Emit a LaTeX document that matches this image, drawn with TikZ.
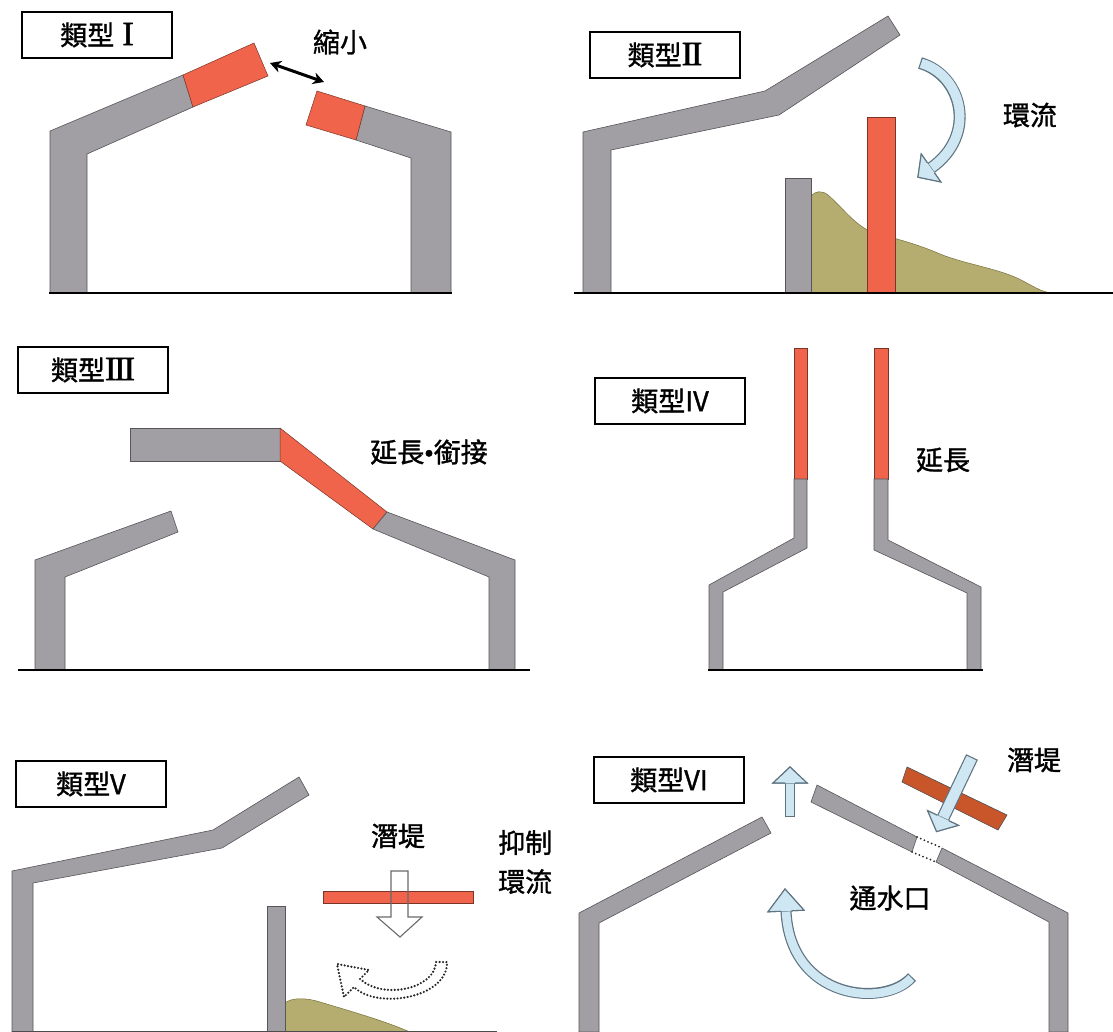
\documentclass[tikz,border=0pt]{standalone}
\usepackage{fontspec}
\setmainfont{Noto Sans CJK TC}[FakeBold=1.2]
\newfontfamily\romfont{Liberation Serif}[FakeBold=1.8]
\usetikzlibrary{calc,arrows.meta}

\definecolor{wallgray}{HTML}{A19FA4}
\definecolor{walledge}{HTML}{55555A}
\definecolor{extred}{HTML}{F0644B}
\definecolor{extedge}{HTML}{7A3428}
\definecolor{silt}{HTML}{B5AC70}
\definecolor{siltedge}{HTML}{77713F}
\definecolor{flowblue}{HTML}{CFE7F3}
\definecolor{flowedge}{HTML}{5F7480}
\definecolor{dikebrown}{HTML}{C9562A}
\definecolor{outlinegray}{HTML}{6A6A6A}

% arrow head for a block arrow: #1 style, #2 end point of the shaft,
% #3 point behind it (sets direction), #4 length, #5 half width, #6 half shaft width
\newcommand\blockhead[6]{%
  \fill[#1] ($(#2)!#5!90:(#3)$) -- ($(#2)!-#4!(#3)$) -- ($(#2)!#5!-90:(#3)$) -- cycle;
  \draw[#1] ($(#2)!#6!90:(#3)$) -- ($(#2)!#5!90:(#3)$) -- ($(#2)!-#4!(#3)$)
            -- ($(#2)!#5!-90:(#3)$) -- ($(#2)!#6!-90:(#3)$);}
% serif roman numerals with joined serifs
\newcommand\romset{\romfont\fontsize{34}{36}\selectfont}
\newcommand\romI{{\romset I}}
\newcommand\romII{{\romset I\kern-2pt I}}
\newcommand\romIII{{\romset I\kern-2pt I\kern-2pt I}}

\begin{document}
\begin{tikzpicture}[x=1pt,y=-1pt,
  wall/.style={fill=wallgray, draw=walledge, line width=0.6pt, line join=miter},
  ext/.style={fill=extred, draw=extedge, line width=0.5pt},
  ground/.style={line width=2pt, black},
  tagbox/.style={draw=black, line width=1.8pt, fill=white, minimum width=150pt,
    minimum height=46pt, inner sep=0pt, font=\fontsize{27}{30}\selectfont},
  label/.style={inner sep=0pt, font=\fontsize{27}{30}\selectfont},
  flowhead/.style={fill=flowblue, draw=flowedge, line width=1.1pt, line join=miter},
  dotline/.style={draw=black!85, line width=2.4pt, line cap=round, dash pattern=on 0pt off 3.4pt},
]
\useasboundingbox (0,0) rectangle (1113,1032);
\fill[white] (0,0) rectangle (1113,1032);

%% ---------------- Type I ----------------
\node[tagbox] (t1) at (97,35) {類型\hspace{8pt}\romI};
\draw[wall] (50,293) -- (50,131) -- (183,75) -- (193,107) -- (87,154) -- (87,293) -- cycle;
\draw[ext] (183,75) -- (254,43) -- (268,76) -- (193,107) -- cycle;
\draw[wall] (451,293) -- (451,132) -- (365,106) -- (356,140) -- (411,158) -- (411,293) -- cycle;
\draw[ext] (365,106) -- (317,91) -- (306,125) -- (356,140) -- cycle;
\draw[ground] (49,293) -- (452,293);
\coordinate (s1a) at (270,63);
\coordinate (s1b) at (324,82);
\draw[line width=3pt, {Stealth[length=11pt,width=12pt]}-{Stealth[length=11pt,width=12pt]}] (s1a) -- (s1b);
\node[label] (l1) at (340,42) {縮小};

%% ---------------- Type II ----------------
\node[tagbox] (t2) at (665,55) {類型\romII};
\draw[wall] (583,293) -- (583,132) -- (765,91) -- (888,16) -- (900,35) -- (779,115) -- (611,150) -- (611,293) -- cycle;
\draw[fill=silt, draw=siltedge, line width=0.5pt]
  (811,293) -- (811,196) .. controls (815,191) and (822,190) .. (828,195)
  .. controls (842,207) and (855,225) .. (870,231)
  .. controls (890,238) and (910,241) .. (940,254)
  .. controls (965,264) and (995,268) .. (1017,278)
  .. controls (1032,285) and (1040,292) .. (1052,293) -- cycle;
\draw[wall] (785,293) rectangle (811,178);
\draw[ext] (867,293) rectangle (895,117);
\draw[ground] (574,293) -- (1113,293);
\coordinate (c2t) at (920,63);
\coordinate (c2a) at (962,75);
\coordinate (c2b) at (978,135);
\coordinate (c2e) at (931,168);
\draw[line width=12pt, flowedge] (c2t) .. controls (c2a) and (c2b) .. (c2e);
\draw[line width=9.6pt, flowblue, shorten <=1.2pt] (c2t) .. controls (c2a) and (c2b) .. (c2e);
\blockhead{flowhead}{c2e}{c2b}{16pt}{17pt}{6pt}
\node[label] (l2) at (1030,115) {環流};

%% ---------------- Type III ----------------
\node[tagbox] (t3) at (93,370) {類型\romIII};
\draw[wall] (130,428) rectangle (280,461);
\draw[ext] (280,428) -- (387,512) -- (373,529) -- (280,461) -- cycle;
\draw[wall] (387,512) -- (515,560) -- (515,670) -- (489,670) -- (489,577) -- (373,529) -- cycle;
\draw[wall] (35,670) -- (35,560) -- (171,511) -- (178,532) -- (65,577) -- (65,670) -- cycle;
\draw[ground] (18,670) -- (530,670);
\node[label] (l3) at (429,452) {延長{\romfont •}銜接};

%% ---------------- Type IV ----------------
\node[tagbox] (t4) at (670,401) {類型IV};
\draw[ext] (794,348) rectangle (807,479);
\draw[ext] (874,348) rectangle (888,479);
\draw[wall] (794,479) -- (794,538) -- (709,585) -- (709,670) -- (723,670) -- (723,592) -- (807,548) -- (807,479) -- cycle;
\draw[wall] (888,479) -- (888,540) -- (981,587) -- (981,670) -- (967,670) -- (967,593) -- (874,550) -- (874,479) -- cycle;
\draw[ground] (708,670) -- (983,670);
\node[label] (l4) at (943,460) {延長};

%% ---------------- Type V ----------------
\node[tagbox] (t5) at (91,784) {類型V};
\draw[wall] (12,1032) -- (12,871) -- (213,830) -- (299,777) -- (309,795) -- (222,848) -- (33,883) -- (33,1032) -- cycle;
\draw[fill=silt, draw=siltedge, line width=0.5pt]
  (285,1032) -- (285,1003) .. controls (291,998) and (304,997) .. (320,1002)
  .. controls (350,1011) and (385,1021) .. (410,1032) -- cycle;
\draw[wall] (267,1032) rectangle (285,906);
\draw[line width=1pt, black!70] (12,1031) -- (497,1031);
% submerged dike with the blocked downward flow
\fill[white] (391,871) -- (408,871) -- (408,917) -- (422,917) -- (400,937) -- (377,917) -- (391,917) -- cycle;
\draw[ext] (323,891) rectangle (473,903);
\draw[outlinegray, line width=1.1pt, line join=miter] (391,871) -- (408,871) -- (408,917) -- (422,917) -- (400,937) -- (377,917) -- (391,917) -- cycle;
% suppressed circulation, dotted outline
\coordinate (c5ti) at (436,962);
\coordinate (c5ei) at (360,979);
\coordinate (c5h1) at (369,970);
\coordinate (c5tip) at (337,964);
\coordinate (c5h2) at (344,997);
\coordinate (c5eo) at (354,987);
\coordinate (c5to) at (447,962);
\draw[dotline] (c5ti) .. controls (435,989) and (383,1000) .. (c5ei) -- (c5h1) -- (c5tip) -- (c5h2) -- (c5eo)
  .. controls (377,1010) and (448,998) .. (c5to) -- cycle;
\node[label] (l5a) at (398,836) {潛堤};
\node[label, align=left, anchor=west, font=\fontsize{27}{39}\selectfont] (l5b) at (498,862) {抑制\\環流};

%% ---------------- Type VI ----------------
\node[tagbox] (t6) at (669,780) {類型VI};
\draw[wall] (579,1032) -- (579,913) -- (762,817) -- (771,833) -- (599,923) -- (599,1032) -- cycle;
\draw[wall] (817,785) -- (917,837) -- (912,852) -- (811,802) -- cycle;
\draw[wall] (942,848) -- (1068,913) -- (1068,1032) -- (1049,1032) -- (1049,922) -- (936,862) -- cycle;
\draw[dotline, line width=2pt, dash pattern=on 0pt off 4pt] (917,837) -- (942,848);
\draw[dotline, line width=2pt, dash pattern=on 0pt off 4pt] (912,852) -- (936,862);
% dike above the opening
\draw[fill=dikebrown, draw=black!70, line width=0.6pt] (907,767) -- (1007,815) -- (998,830) -- (902,782) -- cycle;
% flow through the dike into the opening
\coordinate (d6t) at (972,757);
\coordinate (d6e) at (943,818);
\draw[line width=13pt, flowedge] (d6t) -- (d6e);
\draw[line width=10.6pt, flowblue, shorten <=1.2pt] (d6t) -- (d6e);
\blockhead{flowhead}{d6e}{d6t}{15pt}{17pt}{6.5pt}
% outflow through the ridge
\coordinate (u6t) at (790,817);
\coordinate (u6e) at (790,783);
\draw[line width=10pt, flowedge] (u6t) -- (u6e);
\draw[line width=7.6pt, flowblue, shorten <=1.2pt] (u6t) -- (u6e);
\blockhead{flowhead}{u6e}{u6t}{16pt}{17pt}{5pt}
% circulation rising towards the ridge
\coordinate (c6t) at (912,977);
\coordinate (c6a) at (885,1008);
\coordinate (c6b) at (790,1000);
\coordinate (c6e) at (786,911);
\draw[line width=11pt, flowedge] (c6t) .. controls (c6a) and (c6b) .. (c6e);
\draw[line width=8.6pt, flowblue, shorten <=1.2pt] (c6t) .. controls (c6a) and (c6b) .. (c6e);
\blockhead{flowhead}{c6e}{c6b}{22pt}{18pt}{5.5pt}
\node[label] (l6a) at (1034,760) {潛堤};
\node[label] (l6b) at (890,898) {通水口};

\end{tikzpicture}
\end{document}
